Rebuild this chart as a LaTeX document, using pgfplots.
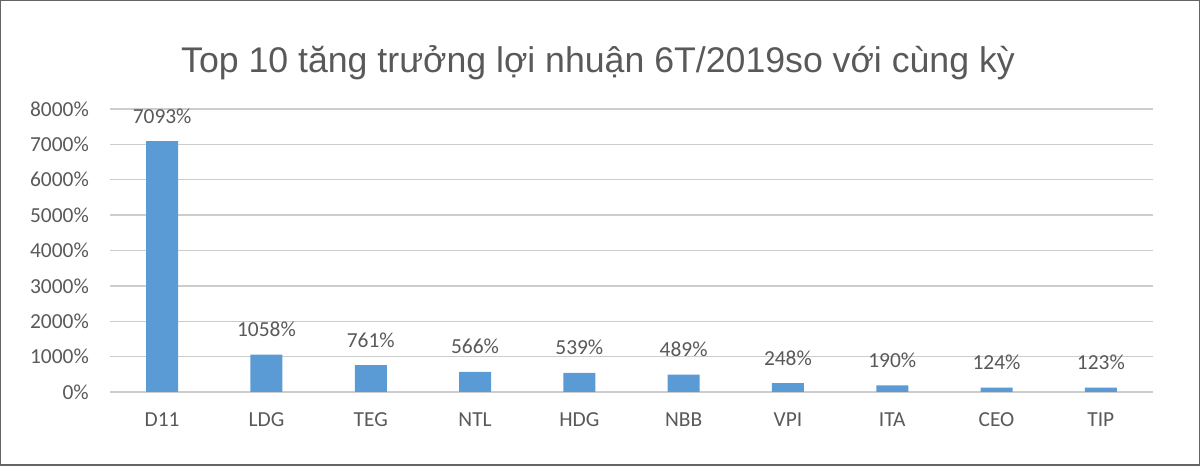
\documentclass[border=0pt]{standalone}
\usepackage{fontspec}
\setmainfont{Carlito}
\newfontfamily\titlefont{Liberation Sans}
\usepackage{pgfplots}
\pgfplotsset{compat=1.18}
\definecolor{txt}{RGB}{89,89,89}
\definecolor{gridc}{RGB}{205,205,205}
\definecolor{barc}{RGB}{91,155,213}
\definecolor{framec}{RGB}{100,100,100}
\begin{document}
\begin{tikzpicture}[x=1bp,y=1bp]
\path[use as bounding box] (0,0) rectangle (1200,466);
\draw[framec, line width=1.5bp] (0.75,0.75) rectangle (1199.25,465.25);
\node[anchor=base, text=txt, inner sep=0, font=\titlefont\fontsize{35.8}{35.8}\selectfont] at (598,393) {Top 10 tăng trưởng lợi nhuận 6T/2019so với cùng kỳ};
\begin{axis}[
  at={(110bp,74bp)}, anchor=south west,
  scale only axis, width=1043bp, height=283bp,
  xmin=-0.5, xmax=9.5, ymin=0, ymax=8000,
  axis line style={draw=none},
  major tick length=0,
  ymajorgrids, xmajorgrids=false, grid style={draw=gridc, line width=1.3bp},
  ytick={0,1000,...,8000},
  yticklabels={0\%,1000\%,2000\%,3000\%,4000\%,5000\%,6000\%,7000\%,8000\%},
  xtick={0,...,9},
  xticklabels={D11,LDG,TEG,NTL,HDG,NBB,VPI,ITA,CEO,TIP},
  tick label style={text=txt, font=\fontsize{21.5}{21.5}\selectfont, inner sep=0},
  yticklabel style={anchor=east, xshift=-21bp},
  xticklabel style={anchor=base, yshift=-35bp},
  ybar, bar width=32bp,
  point meta=explicit symbolic,
  nodes near coords={\pgfplotspointmeta\%},
  every node near coord/.style={anchor=base, inner sep=0, yshift=18bp, text=txt, font=\fontsize{21.5}{21.5}\selectfont},
  clip=false,
]
\addplot[fill=barc, draw=none] table[meta=lab] {
x y lab
0 7093 7093
1 1058 1058
2 761 761
3 566 566
4 539 539
5 489 489
6 248 248
7 190 190
8 124 124
9 123 123
};
\end{axis}
\end{tikzpicture}
\end{document}
